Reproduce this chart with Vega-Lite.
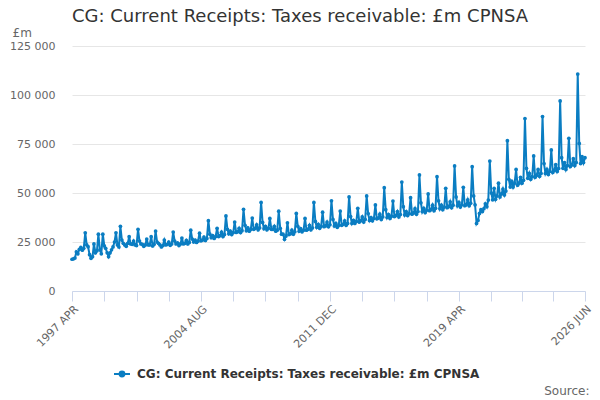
{
  "$schema": "https://vega.github.io/schema/vega-lite/v6.json",
  "width": 513,
  "height": 245,
  "autosize": "none",
  "padding": {"left": 72, "top": 46, "right": 15, "bottom": 109},
  "background": "white",
  "config": {"view": {"stroke": null}, "font": "DejaVu Sans"},
  "title": {
    "text": "CG: Current Receipts: Taxes receivable: £m CPNSA",
    "anchor": "start",
    "frame": "group",
    "fontSize": 18,
    "fontWeight": "normal",
    "font": "DejaVu Sans",
    "color": "#333333",
    "offset": 0,
    "dx": 0
  },
  "data": {"values": [
    {"d":"1997-04-01","v":16200},{"d":"1997-05-01","v":16400},{"d":"1997-06-01","v":16800},{"d":"1997-07-01","v":20000},{"d":"1997-08-01","v":19000},{"d":"1997-09-01","v":21300},{"d":"1997-10-01","v":22200},{"d":"1997-11-01","v":20800},{"d":"1997-12-01","v":21800},
    {"d":"1998-01-01","v":29700},{"d":"1998-02-01","v":23500},{"d":"1998-03-01","v":22600},{"d":"1998-04-01","v":18500},{"d":"1998-05-01","v":16700},{"d":"1998-06-01","v":17500},{"d":"1998-07-01","v":24000},{"d":"1998-08-01","v":19500},{"d":"1998-09-01","v":20500},{"d":"1998-10-01","v":29000},{"d":"1998-11-01","v":21000},{"d":"1998-12-01","v":19000},
    {"d":"1999-01-01","v":29000},{"d":"1999-02-01","v":23000},{"d":"1999-03-01","v":21800},{"d":"1999-04-01","v":19500},{"d":"1999-05-01","v":17500},{"d":"1999-06-01","v":19500},{"d":"1999-07-01","v":21000},{"d":"1999-08-01","v":22500},{"d":"1999-09-01","v":25000},{"d":"1999-10-01","v":29700},{"d":"1999-11-01","v":23500},{"d":"1999-12-01","v":22500},
    {"d":"2000-01-01","v":33000},{"d":"2000-02-01","v":26000},{"d":"2000-03-01","v":24300},{"d":"2000-04-01","v":23500},{"d":"2000-05-01","v":22800},{"d":"2000-06-01","v":24300},{"d":"2000-07-01","v":27700},{"d":"2000-08-01","v":24000},{"d":"2000-09-01","v":23800},{"d":"2000-10-01","v":25500},{"d":"2000-11-01","v":23500},{"d":"2000-12-01","v":23200},
    {"d":"2001-01-01","v":31500},{"d":"2001-02-01","v":25500},{"d":"2001-03-01","v":24000},{"d":"2001-04-01","v":23800},{"d":"2001-05-01","v":22800},{"d":"2001-06-01","v":23500},{"d":"2001-07-01","v":26500},{"d":"2001-08-01","v":23500},{"d":"2001-09-01","v":23500},{"d":"2001-10-01","v":27700},{"d":"2001-11-01","v":23000},{"d":"2001-12-01","v":23800},
    {"d":"2002-01-01","v":30600},{"d":"2002-02-01","v":25000},{"d":"2002-03-01","v":24300},{"d":"2002-04-01","v":23500},{"d":"2002-05-01","v":22500},{"d":"2002-06-01","v":23200},{"d":"2002-07-01","v":26000},{"d":"2002-08-01","v":23500},{"d":"2002-09-01","v":23800},{"d":"2002-10-01","v":25000},{"d":"2002-11-01","v":23300},{"d":"2002-12-01","v":24000},
    {"d":"2003-01-01","v":30100},{"d":"2003-02-01","v":25500},{"d":"2003-03-01","v":24000},{"d":"2003-04-01","v":24500},{"d":"2003-05-01","v":23200},{"d":"2003-06-01","v":24000},{"d":"2003-07-01","v":27000},{"d":"2003-08-01","v":24000},{"d":"2003-09-01","v":24300},{"d":"2003-10-01","v":25800},{"d":"2003-11-01","v":24000},{"d":"2003-12-01","v":24800},
    {"d":"2004-01-01","v":31000},{"d":"2004-02-01","v":26500},{"d":"2004-03-01","v":25000},{"d":"2004-04-01","v":26000},{"d":"2004-05-01","v":24800},{"d":"2004-06-01","v":25500},{"d":"2004-07-01","v":29500},{"d":"2004-08-01","v":25600},{"d":"2004-09-01","v":26000},{"d":"2004-10-01","v":27500},{"d":"2004-11-01","v":25800},{"d":"2004-12-01","v":26800},
    {"d":"2005-01-01","v":35900},{"d":"2005-02-01","v":29000},{"d":"2005-03-01","v":27200},{"d":"2005-04-01","v":28300},{"d":"2005-05-01","v":26800},{"d":"2005-06-01","v":27800},{"d":"2005-07-01","v":32000},{"d":"2005-08-01","v":27800},{"d":"2005-09-01","v":28200},{"d":"2005-10-01","v":30000},{"d":"2005-11-01","v":27800},{"d":"2005-12-01","v":28800},
    {"d":"2006-01-01","v":38300},{"d":"2006-02-01","v":31500},{"d":"2006-03-01","v":29200},{"d":"2006-04-01","v":30500},{"d":"2006-05-01","v":28800},{"d":"2006-06-01","v":29800},{"d":"2006-07-01","v":35200},{"d":"2006-08-01","v":29900},{"d":"2006-09-01","v":30200},{"d":"2006-10-01","v":32000},{"d":"2006-11-01","v":29800},{"d":"2006-12-01","v":30800},
    {"d":"2007-01-01","v":41700},{"d":"2007-02-01","v":33500},{"d":"2007-03-01","v":30800},{"d":"2007-04-01","v":32200},{"d":"2007-05-01","v":30500},{"d":"2007-06-01","v":31500},{"d":"2007-07-01","v":37200},{"d":"2007-08-01","v":31500},{"d":"2007-09-01","v":31900},{"d":"2007-10-01","v":33800},{"d":"2007-11-01","v":31200},{"d":"2007-12-01","v":32200},
    {"d":"2008-01-01","v":45200},{"d":"2008-02-01","v":35000},{"d":"2008-03-01","v":31800},{"d":"2008-04-01","v":33000},{"d":"2008-05-01","v":31200},{"d":"2008-06-01","v":32000},{"d":"2008-07-01","v":37000},{"d":"2008-08-01","v":31500},{"d":"2008-09-01","v":31500},{"d":"2008-10-01","v":33000},{"d":"2008-11-01","v":30500},{"d":"2008-12-01","v":31000},
    {"d":"2009-01-01","v":40700},{"d":"2009-02-01","v":32000},{"d":"2009-03-01","v":29000},{"d":"2009-04-01","v":29000},{"d":"2009-05-01","v":26400},{"d":"2009-06-01","v":28000},{"d":"2009-07-01","v":34800},{"d":"2009-08-01","v":28800},{"d":"2009-09-01","v":29200},{"d":"2009-10-01","v":31000},{"d":"2009-11-01","v":29000},{"d":"2009-12-01","v":30200},
    {"d":"2010-01-01","v":39600},{"d":"2010-02-01","v":33000},{"d":"2010-03-01","v":30500},{"d":"2010-04-01","v":31800},{"d":"2010-05-01","v":30200},{"d":"2010-06-01","v":31000},{"d":"2010-07-01","v":37000},{"d":"2010-08-01","v":31000},{"d":"2010-09-01","v":31500},{"d":"2010-10-01","v":33500},{"d":"2010-11-01","v":31200},{"d":"2010-12-01","v":32200},
    {"d":"2011-01-01","v":45200},{"d":"2011-02-01","v":35500},{"d":"2011-03-01","v":32500},{"d":"2011-04-01","v":34000},{"d":"2011-05-01","v":32000},{"d":"2011-06-01","v":33000},{"d":"2011-07-01","v":40200},{"d":"2011-08-01","v":32800},{"d":"2011-09-01","v":33200},{"d":"2011-10-01","v":35200},{"d":"2011-11-01","v":32800},{"d":"2011-12-01","v":33800},
    {"d":"2012-01-01","v":46000},{"d":"2012-02-01","v":36500},{"d":"2012-03-01","v":33200},{"d":"2012-04-01","v":34500},{"d":"2012-05-01","v":32500},{"d":"2012-06-01","v":33500},{"d":"2012-07-01","v":40800},{"d":"2012-08-01","v":33500},{"d":"2012-09-01","v":34000},{"d":"2012-10-01","v":35800},{"d":"2012-11-01","v":33500},{"d":"2012-12-01","v":34500},
    {"d":"2013-01-01","v":48000},{"d":"2013-02-01","v":38000},{"d":"2013-03-01","v":34500},{"d":"2013-04-01","v":36000},{"d":"2013-05-01","v":34500},{"d":"2013-06-01","v":35500},{"d":"2013-07-01","v":42200},{"d":"2013-08-01","v":35200},{"d":"2013-09-01","v":35800},{"d":"2013-10-01","v":37800},{"d":"2013-11-01","v":35200},{"d":"2013-12-01","v":36500},
    {"d":"2014-01-01","v":48500},{"d":"2014-02-01","v":39500},{"d":"2014-03-01","v":36000},{"d":"2014-04-01","v":37500},{"d":"2014-05-01","v":35800},{"d":"2014-06-01","v":37000},{"d":"2014-07-01","v":43900},{"d":"2014-08-01","v":36800},{"d":"2014-09-01","v":37200},{"d":"2014-10-01","v":39200},{"d":"2014-11-01","v":36500},{"d":"2014-12-01","v":37800},
    {"d":"2015-01-01","v":52700},{"d":"2015-02-01","v":41500},{"d":"2015-03-01","v":37500},{"d":"2015-04-01","v":39000},{"d":"2015-05-01","v":37000},{"d":"2015-06-01","v":38200},{"d":"2015-07-01","v":45900},{"d":"2015-08-01","v":38000},{"d":"2015-09-01","v":38500},{"d":"2015-10-01","v":40500},{"d":"2015-11-01","v":37800},{"d":"2015-12-01","v":39000},
    {"d":"2016-01-01","v":55600},{"d":"2016-02-01","v":43000},{"d":"2016-03-01","v":38800},{"d":"2016-04-01","v":40500},{"d":"2016-05-01","v":38500},{"d":"2016-06-01","v":39500},{"d":"2016-07-01","v":47600},{"d":"2016-08-01","v":39200},{"d":"2016-09-01","v":39800},{"d":"2016-10-01","v":42000},{"d":"2016-11-01","v":39200},{"d":"2016-12-01","v":40500},
    {"d":"2017-01-01","v":59200},{"d":"2017-02-01","v":45000},{"d":"2017-03-01","v":40500},{"d":"2017-04-01","v":42200},{"d":"2017-05-01","v":40000},{"d":"2017-06-01","v":41200},{"d":"2017-07-01","v":49500},{"d":"2017-08-01","v":41000},{"d":"2017-09-01","v":41500},{"d":"2017-10-01","v":43800},{"d":"2017-11-01","v":41000},{"d":"2017-12-01","v":42200},
    {"d":"2018-01-01","v":58300},{"d":"2018-02-01","v":46000},{"d":"2018-03-01","v":42000},{"d":"2018-04-01","v":43800},{"d":"2018-05-01","v":41500},{"d":"2018-06-01","v":42800},{"d":"2018-07-01","v":52400},{"d":"2018-08-01","v":42500},{"d":"2018-09-01","v":43000},{"d":"2018-10-01","v":45500},{"d":"2018-11-01","v":42500},{"d":"2018-12-01","v":43800},
    {"d":"2019-01-01","v":63800},{"d":"2019-02-01","v":48000},{"d":"2019-03-01","v":43500},{"d":"2019-04-01","v":45200},{"d":"2019-05-01","v":42800},{"d":"2019-06-01","v":44000},{"d":"2019-07-01","v":52900},{"d":"2019-08-01","v":43500},{"d":"2019-09-01","v":44000},{"d":"2019-10-01","v":46500},{"d":"2019-11-01","v":43500},{"d":"2019-12-01","v":44800},
    {"d":"2020-01-01","v":63400},{"d":"2020-02-01","v":48500},{"d":"2020-03-01","v":44000},{"d":"2020-04-01","v":34500},{"d":"2020-05-01","v":36000},{"d":"2020-06-01","v":39600},{"d":"2020-07-01","v":41500},{"d":"2020-08-01","v":40500},{"d":"2020-09-01","v":42000},{"d":"2020-10-01","v":44500},{"d":"2020-11-01","v":43000},{"d":"2020-12-01","v":46400},
    {"d":"2021-01-01","v":66300},{"d":"2021-02-01","v":50000},{"d":"2021-03-01","v":46500},{"d":"2021-04-01","v":52400},{"d":"2021-05-01","v":46800},{"d":"2021-06-01","v":48500},{"d":"2021-07-01","v":55000},{"d":"2021-08-01","v":48000},{"d":"2021-09-01","v":49500},{"d":"2021-10-01","v":52000},{"d":"2021-11-01","v":49000},{"d":"2021-12-01","v":51000},
    {"d":"2022-01-01","v":76700},{"d":"2022-02-01","v":57000},{"d":"2022-03-01","v":53000},{"d":"2022-04-01","v":56000},{"d":"2022-05-01","v":53000},{"d":"2022-06-01","v":55000},{"d":"2022-07-01","v":62000},{"d":"2022-08-01","v":54000},{"d":"2022-09-01","v":55000},{"d":"2022-10-01","v":58000},{"d":"2022-11-01","v":55000},{"d":"2022-12-01","v":56500},
    {"d":"2023-01-01","v":88000},{"d":"2023-02-01","v":62600},{"d":"2023-03-01","v":57500},{"d":"2023-04-01","v":60000},{"d":"2023-05-01","v":57000},{"d":"2023-06-01","v":58300},{"d":"2023-07-01","v":68900},{"d":"2023-08-01","v":58000},{"d":"2023-09-01","v":59000},{"d":"2023-10-01","v":62000},{"d":"2023-11-01","v":58500},{"d":"2023-12-01","v":60000},
    {"d":"2024-01-01","v":89000},{"d":"2024-02-01","v":65000},{"d":"2024-03-01","v":60000},{"d":"2024-04-01","v":62000},{"d":"2024-05-01","v":59500},{"d":"2024-06-01","v":61000},{"d":"2024-07-01","v":72000},{"d":"2024-08-01","v":60500},{"d":"2024-09-01","v":61500},{"d":"2024-10-01","v":64500},{"d":"2024-11-01","v":61000},{"d":"2024-12-01","v":62500},
    {"d":"2025-01-01","v":97000},{"d":"2025-02-01","v":68000},{"d":"2025-03-01","v":62600},{"d":"2025-04-01","v":65500},{"d":"2025-05-01","v":62000},{"d":"2025-06-01","v":64000},{"d":"2025-07-01","v":77900},{"d":"2025-08-01","v":63500},{"d":"2025-09-01","v":64300},{"d":"2025-10-01","v":67500},{"d":"2025-11-01","v":64000},{"d":"2025-12-01","v":65500},
    {"d":"2026-01-01","v":110700},{"d":"2026-02-01","v":75300},{"d":"2026-03-01","v":65000},{"d":"2026-04-01","v":68500},{"d":"2026-05-01","v":65500},{"d":"2026-06-01","v":68000}
  ]},
  "mark": {"type": "line", "strokeWidth": 2, "point": {"filled": true, "size": 14}},
  "encoding": {
    "x": {
      "field": "d",
      "type": "temporal",
      "scale": {"type": "utc", "domain": [{"year": 1997, "month": 4, "date": 1, "utc": true}, {"year": 2026, "month": 6, "date": 1, "utc": true}]},
      "axis": {
        "values": [
          {"year": 1997, "month": 4, "date": 1, "utc": true},
          {"year": 1999, "month": 2, "date": 1, "utc": true},
          {"year": 2000, "month": 12, "date": 1, "utc": true},
          {"year": 2002, "month": 10, "date": 1, "utc": true},
          {"year": 2004, "month": 8, "date": 1, "utc": true},
          {"year": 2006, "month": 6, "date": 1, "utc": true},
          {"year": 2008, "month": 4, "date": 1, "utc": true},
          {"year": 2010, "month": 2, "date": 1, "utc": true},
          {"year": 2011, "month": 12, "date": 1, "utc": true},
          {"year": 2013, "month": 10, "date": 1, "utc": true},
          {"year": 2015, "month": 8, "date": 1, "utc": true},
          {"year": 2017, "month": 6, "date": 1, "utc": true},
          {"year": 2019, "month": 4, "date": 1, "utc": true},
          {"year": 2021, "month": 2, "date": 1, "utc": true},
          {"year": 2022, "month": 11, "date": 1, "utc": true},
          {"year": 2024, "month": 8, "date": 1, "utc": true},
          {"year": 2026, "month": 6, "date": 1, "utc": true}
        ],
        "labelExpr": "indexof(['1997-04','2004-08','2011-12','2019-04','2026-06'], utcFormat(datum.value, '%Y-%m')) >= 0 ? upper(utcFormat(datum.value, '%Y %b')) : ''",
        "labelAngle": -45,
        "labelAlign": "right",
        "labelBaseline": "top",
        "labelPadding": 2,
        "labelFontSize": 11,
        "labelColor": "#666666",
        "labelOverlap": false,
        "labelBound": false,
        "labelFlush": false,
        "tickSize": 10,
        "tickColor": "#ccd6eb",
        "domainColor": "#ccd6eb",
        "grid": false,
        "title": "Source:",
        "titleAnchor": "end",
        "titleAlign": "right",
        "titleBaseline": "middle",
        "titleX": 517,
        "titleY": 99,
        "titleFontSize": 12,
        "titleFontWeight": "normal",
        "titleColor": "#666666"
      }
    },
    "y": {
      "field": "v",
      "type": "quantitative",
      "scale": {"domain": [0, 125000], "nice": false},
      "axis": {
        "values": [0, 25000, 50000, 75000, 100000, 125000],
        "labelExpr": "replace(format(datum.value, ','), ',', ' ')",
        "labelFontSize": 11,
        "labelColor": "#666666",
        "labelPadding": 17,
        "ticks": false,
        "domain": false,
        "grid": true,
        "gridColor": "#e6e6e6",
        "title": "£m",
        "titleAngle": 0,
        "titleAlign": "left",
        "titleBaseline": "middle",
        "titleX": -60,
        "titleY": -14,
        "titleFontSize": 12,
        "titleFontWeight": "normal",
        "titleColor": "#666666"
      }
    },
    "color": {
      "datum": "CG: Current Receipts: Taxes receivable: £m CPNSA",
      "type": "nominal",
      "scale": {"range": ["#0a7dc2"]},
      "legend": {
        "orient": "none",
        "legendX": 41,
        "legendY": 319,
        "direction": "horizontal",
        "title": null,
        "labelFontSize": 12,
        "labelFontWeight": "bold",
        "labelColor": "#333333",
        "labelLimit": 0,
        "labelOffset": 6,
        "symbolType": "M-1,0L1,0M-0.3,0A0.3,0.3,0,1,0,0.3,0A0.3,0.3,0,1,0,-0.3,0",
        "symbolSize": 256,
        "symbolStrokeWidth": 2,
        "symbolFillColor": "#0a7dc2",
        "symbolStrokeColor": "#0a7dc2"
      }
    }
  }
}
